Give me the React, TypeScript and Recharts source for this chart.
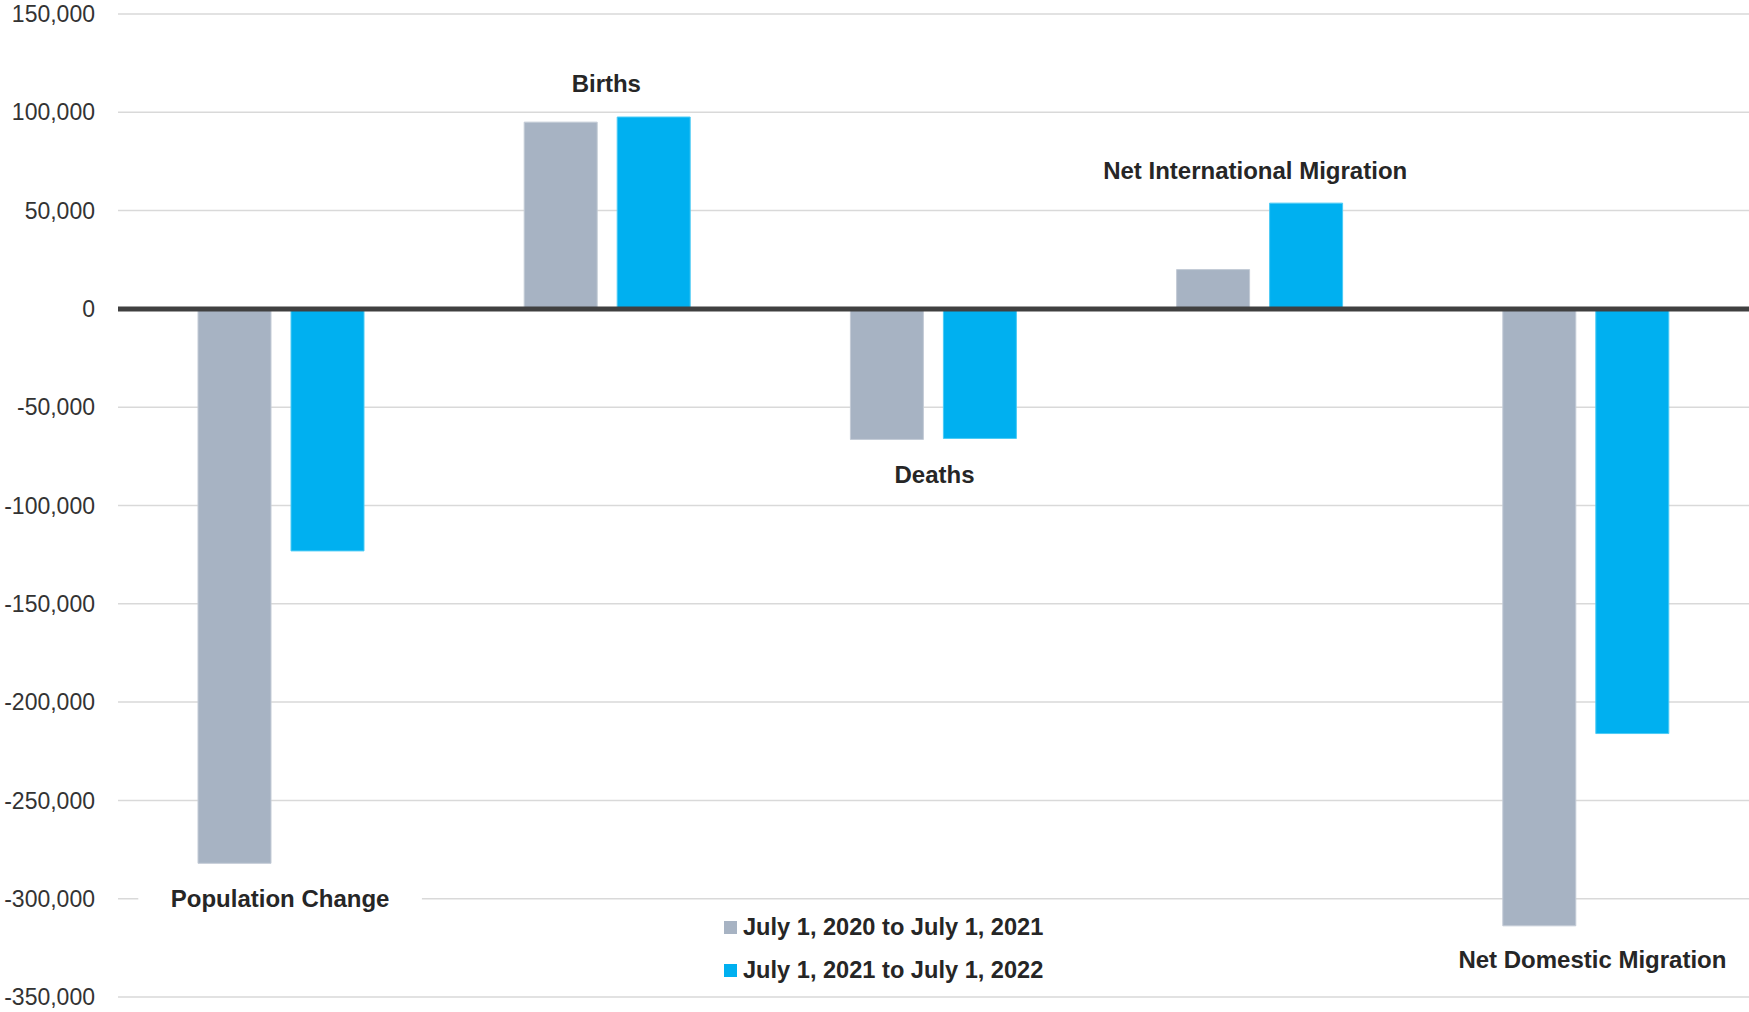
import React from 'react';
import {
  ComposedChart,
  Bar,
  Line,
  XAxis,
  YAxis,
  CartesianGrid,
  ReferenceLine,
  Legend,
  LabelList,
} from 'recharts';

const categories = [
  'Population Change',
  'Births',
  'Deaths',
  'Net International Migration',
  'Net Domestic Migration',
];
const period2021 = [-282000, 95000, -66400, 20000, -313800];
const period2022 = [-123100, 97600, -65900, 53800, -216000];
const yTicks = [150000, 100000, 50000, 0, -50000, -100000, -150000, -200000, -250000, -300000, -350000];
const seriesNames = ['July 1, 2020 to July 1, 2021', 'July 1, 2021 to July 1, 2022'];
const seriesColors = ['#A7B3C3', '#00B0F0'];
const seriesStrokes = ['#C3CBD6', '#4CCBF5'];
// small manual nudges of the category labels (style only)
const labelDx = [-1, -1, 1, -4.5, 6.5];
const labelDy = [0, -1, 0, 0, -2];

const FONT = '"Liberation Sans", Arial, Helvetica, sans-serif';

const data = categories.map((name, i) => {
  const a = period2021[i];
  const b = period2022[i];
  return { name, p1: a, p2: b, extreme: Math.abs(a) > Math.abs(b) ? a : b };
});

const CategoryLabel = (props: any) => {
  const { x, y, value, index } = props;
  const label = categories[index];
  const neg = value < 0;
  const baseline = (neg ? y + 44 : y - 24) + labelDy[index];
  const cx = x + labelDx[index];
  const w = label.length * 12.8 + 66;
  return (
    <g>
      <rect x={cx - w / 2} y={baseline - 24} width={w} height={32} fill="#ffffff" />
      <text
        x={cx}
        y={baseline}
        textAnchor="middle"
        fontFamily={FONT}
        fontWeight="bold"
        fontSize={24}
        fill="#262626"
      >
        {label}
      </text>
    </g>
  );
};

const LegendContent = () => (
  <div style={{ fontFamily: FONT, fontWeight: 'bold', fontSize: 23.6, color: '#262626' }}>
    {seriesNames.map((n, i) => (
      <div key={n} style={{ display: 'flex', alignItems: 'center', height: 43, whiteSpace: 'nowrap' }}>
        <span
          style={{
            display: 'inline-block',
            width: 13,
            height: 13,
            background: seriesColors[i],
            marginRight: 6,
          }}
        />
        <span>{n}</span>
      </div>
    ))}
  </div>
);

export default function App() {
  return (
    <div style={{ position: 'absolute', left: 0, top: 0, background: '#fff' }}>
      <ComposedChart
        width={1749}
        height={1012}
        data={data}
        margin={{ top: 14, right: 0, bottom: 15, left: 1 }}
        barSize={73}
        barGap={20}
      >
        <CartesianGrid horizontal vertical={false} stroke="#D9D9D9" strokeWidth={1.5} />
        <XAxis dataKey="name" hide />
        <YAxis
          width={117}
          domain={[-350000, 150000]}
          ticks={yTicks}
          interval={0}
          axisLine={false}
          tickLine={false}
          tickSize={0}
          tickMargin={23}
          tick={{ fontFamily: FONT, fontSize: 23, fill: '#333333' }}
          tickFormatter={(v: number) => v.toLocaleString('en-US')}
        />
        <Legend
          layout="vertical"
          align="center"
          verticalAlign="middle"
          content={LegendContent}
          wrapperStyle={{ left: 724, top: 906, width: 380 }}
        />
        <Bar
          dataKey="p1"
          name={seriesNames[0]}
          fill={seriesColors[0]}
          stroke={seriesStrokes[0]}
          strokeWidth={1}
          isAnimationActive={false}
        />
        <Bar
          dataKey="p2"
          name={seriesNames[1]}
          fill={seriesColors[1]}
          stroke={seriesStrokes[1]}
          strokeWidth={1}
          isAnimationActive={false}
        />
        <ReferenceLine y={0} stroke="#404040" strokeWidth={5} ifOverflow="extendDomain" />
        <Line
          dataKey="extreme"
          stroke="none"
          dot={false}
          activeDot={false}
          legendType="none"
          isAnimationActive={false}
        >
          <LabelList dataKey="extreme" content={CategoryLabel} />
        </Line>
      </ComposedChart>
    </div>
  );
}
